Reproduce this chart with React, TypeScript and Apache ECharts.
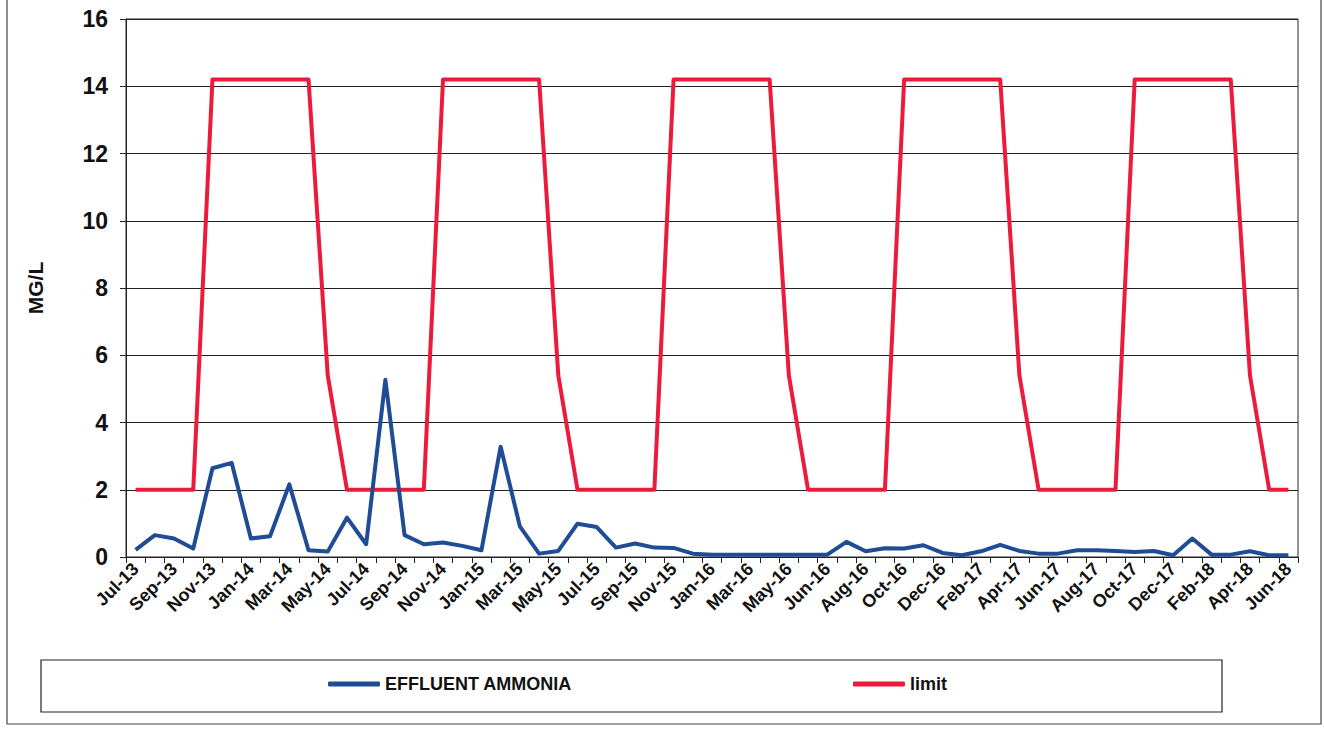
import { useEffect, useRef } from "react";
import * as echarts from "echarts";

// Monthly sampling dates (two entries fall in the May/Jun-16 gap)
const categories = [
  "Jul-13", "Aug-13", "Sep-13", "Oct-13", "Nov-13", "Dec-13",
  "Jan-14", "Feb-14", "Mar-14", "Apr-14", "May-14", "Jun-14",
  "Jul-14", "Aug-14", "Sep-14", "Oct-14", "Nov-14", "Dec-14",
  "Jan-15", "Feb-15", "Mar-15", "Apr-15", "May-15", "Jun-15",
  "Jul-15", "Aug-15", "Sep-15", "Oct-15", "Nov-15", "Dec-15",
  "Jan-16", "Feb-16", "Mar-16", "Apr-16", "May-16", "May-16",
  "Jun-16", "Jul-16", "Aug-16", "Sep-16", "Oct-16", "Nov-16",
  "Dec-16", "Jan-17", "Feb-17", "Mar-17", "Apr-17", "May-17",
  "Jun-17", "Jul-17", "Aug-17", "Sep-17", "Oct-17", "Nov-17",
  "Dec-17", "Jan-18", "Feb-18", "Mar-18", "Apr-18", "May-18",
  "Jun-18",
];

// Effluent ammonia, mg/L
const effluentAmmonia = [
  0.21, 0.65, 0.55, 0.25, 2.64, 2.8, 0.55, 0.62, 2.16, 0.2,
  0.16, 1.17, 0.38, 5.27, 0.65, 0.38, 0.43, 0.33, 0.2, 3.28,
  0.91, 0.1, 0.18, 0.99, 0.89, 0.28, 0.4, 0.28, 0.27, 0.1,
  0.07, 0.07, 0.07, 0.07, 0.07, 0.07, 0.07, 0.45, 0.17, 0.26,
  0.25, 0.35, 0.12, 0.05, 0.17, 0.36, 0.18, 0.1, 0.1, 0.2,
  0.2, 0.18, 0.15, 0.18, 0.05, 0.55, 0.07, 0.07, 0.17, 0.05,
  0.05,
];

// Seasonal permit limit, mg/L
const limit = [
  2, 2, 2, 2, 14.2, 14.2, 14.2, 14.2, 14.2, 14.2,
  5.4, 2, 2, 2, 2, 2, 14.2, 14.2, 14.2, 14.2,
  14.2, 14.2, 5.4, 2, 2, 2, 2, 2, 14.2, 14.2,
  14.2, 14.2, 14.2, 14.2, 5.4, 2, 2, 2, 2, 2,
  14.2, 14.2, 14.2, 14.2, 14.2, 14.2, 5.4, 2, 2, 2,
  2, 2, 14.2, 14.2, 14.2, 14.2, 14.2, 14.2, 5.4, 2,
  2,
];

const yTicks = { min: 0, max: 16, interval: 2 };

const FONT = '"Liberation Sans", Arial, sans-serif';
const BLUE = "#1F4C94";
const RED = "#EC1B3B";
const INK = "#222";

export default function App() {
  const ref = useRef<HTMLDivElement>(null);

  useEffect(() => {
    if (!ref.current) return;
    const chart = echarts.init(ref.current, undefined, { renderer: "svg" });
    chart.setOption({
      animation: false,
      backgroundColor: "#ffffff",
      grid: {
        left: 126,
        right: 26,
        top: 19,
        bottom: 172,
        show: true,
        borderColor: INK,
        borderWidth: 1,
        backgroundColor: "transparent",
      },
      xAxis: {
        type: "category",
        data: categories,
        boundaryGap: true,
        axisLine: { show: true, lineStyle: { color: INK, width: 1 } },
        axisTick: { show: true, interval: 0, length: 6, lineStyle: { color: INK, width: 1 } },
        axisLabel: {
          interval: 1,
          rotate: 45,
          fontFamily: FONT,
          fontWeight: "bold",
          fontSize: 18,
          color: "#111",
          margin: 9,
        },
        splitLine: { show: false },
      },
      yAxis: {
        type: "value",
        min: yTicks.min,
        max: yTicks.max,
        interval: yTicks.interval,
        name: "MG/L",
        nameLocation: "middle",
        nameGap: 80,
        nameRotate: 90,
        nameTextStyle: { fontFamily: FONT, fontWeight: "bold", fontSize: 21, color: "#111" },
        axisLine: { show: true, lineStyle: { color: INK, width: 1 } },
        axisTick: { show: true, length: 6, lineStyle: { color: INK, width: 1 } },
        axisLabel: { fontFamily: FONT, fontWeight: "bold", fontSize: 23, color: "#111", margin: 18 },
        splitLine: { show: true, lineStyle: { color: INK, width: 1 } },
      },
      legend: {
        data: ["EFFLUENT AMMONIA", "limit"],
        left: 323,
        top: 670,
        icon: "roundRect",
        itemWidth: 52,
        itemHeight: 5,
        itemGap: 281,
        textStyle: { fontFamily: FONT, fontWeight: "bold", fontSize: 18, color: "#111" },
      },
      graphic: [
        {
          type: "rect",
          shape: { x: 7, y: -5, width: 1314, height: 729 },
          style: { fill: "none", stroke: "#444", lineWidth: 1.2 },
          silent: true,
        },
        {
          type: "rect",
          shape: { x: 41, y: 660, width: 1181, height: 52 },
          style: { fill: "none", stroke: INK, lineWidth: 1.2 },
          silent: true,
        },
      ],
      series: [
        {
          name: "EFFLUENT AMMONIA",
          type: "line",
          data: effluentAmmonia,
          showSymbol: false,
          symbol: "none",
          z: 3,
          lineStyle: { color: BLUE, width: 4, join: "round" },
          itemStyle: { color: BLUE },
        },
        {
          name: "limit",
          type: "line",
          data: limit,
          showSymbol: false,
          symbol: "none",
          z: 2,
          lineStyle: { color: RED, width: 4, join: "round" },
          itemStyle: { color: RED },
        },
      ],
    });
    return () => chart.dispose();
  }, []);

  return (
    <div
      ref={ref}
      style={{ position: "fixed", left: 0, top: 0, width: 1324, height: 729, background: "#fff" }}
    />
  );
}
